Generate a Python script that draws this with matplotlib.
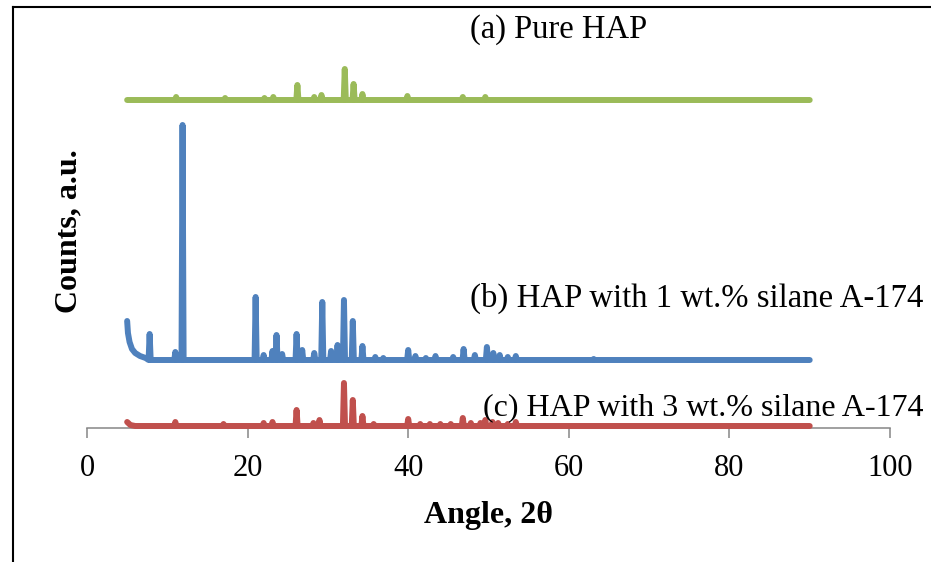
import matplotlib
matplotlib.use("Agg")
import matplotlib.pyplot as plt
from matplotlib.lines import Line2D

plt.rcParams["font.family"] = ["Liberation Serif", "DejaVu Serif"]

# angle range of the scans
angle_start = 5.0
angle_end = 90.0

# (a) pure HAP: peak positions (2theta) and peak tops (a.u.)
hap_pos = [11.1, 17.2, 22.1, 23.2, 26.2, 28.3, 29.2, 32.1, 33.2, 34.3, 39.9, 46.8, 49.6]
hap_top = [331, 330, 330, 331, 343, 331, 333, 359, 344, 334, 332, 331, 331]
hap_base = 328
hap_start_x = [5.0]
hap_start_y = [328]

# (b) HAP with 1 wt.% silane A-174
s1_pos = [7.8, 11.0, 11.9, 21.0, 22.0, 23.1, 23.6, 24.3, 26.1, 26.8, 28.3, 29.3,
          30.4, 31.2, 32.0, 33.1, 34.3, 35.9, 36.9, 40.0, 40.9, 42.2, 43.4, 45.6,
          46.9, 48.3, 49.8, 50.6, 51.4, 52.4, 53.4, 63.1]
s1_top = [94, 76, 303, 131, 73, 77, 93, 74, 94, 78, 75, 126,
          77, 83, 128, 107, 82, 71, 70, 78, 72, 70, 72, 71,
          79, 73, 81, 75, 73, 71, 72, 69]
s1_base = 68
s1_start_x = [5.0, 5.1, 5.3, 5.6, 6.0, 6.6, 7.3]
s1_start_y = [107, 95, 86, 79, 75, 72, 70]

# (c) HAP with 3 wt.% silane A-174
s3_pos = [11.0, 17.0, 22.0, 23.1, 26.1, 28.2, 28.95, 32.0, 33.1, 34.3, 35.7, 40.0,
          41.5, 42.7, 44.0, 45.3, 46.8, 47.8, 49.0, 49.6, 50.5, 51.2, 52.4, 53.4]
s3_top = [6, 4, 5, 6, 18, 5, 8, 45, 28, 12, 4, 9,
          4, 4, 4, 4, 10, 5, 5, 8, 6, 5, 4, 6]
s3_base = 2
s3_start_x = [5.0, 5.4, 6.0]
s3_start_y = [6, 3, 2]

labels = ["(a) Pure HAP",
          "(b) HAP with 1 wt.% silane A-174",
          "(c) HAP with 3 wt.% silane A-174"]
colors = ["#9BBB59", "#4F81BD", "#C0504D"]


def trace(pos, top, base, start_x, start_y, half_width=0.13):
    xs = list(start_x)
    ys = list(start_y)
    for p, t in zip(pos, top):
        xs += [p - half_width, p, p + half_width]
        ys += [base, t, base]
    xs.append(angle_end)
    ys.append(base)
    return xs, ys


fig = plt.figure(figsize=(9.31, 5.62), dpi=100)
ax = fig.add_axes([87 / 931, 1 - 428 / 562, 803 / 931, 408 / 562])

series = [
    (hap_pos, hap_top, hap_base, hap_start_x, hap_start_y),
    (s1_pos, s1_top, s1_base, s1_start_x, s1_start_y),
    (s3_pos, s3_top, s3_base, s3_start_x, s3_start_y),
]
for (pos, top, base, sx, sy), c in zip(series, colors):
    x, y = trace(pos, top, base, sx, sy)
    ax.plot(x, y, color=c, lw=4.3, solid_joinstyle="round",
            solid_capstyle="round", zorder=3, clip_on=False)

ax.set_xlim(0, 100)
ax.set_ylim(0, 408)
ax.set_xticks([0, 20, 40, 60, 80, 100])
ax.set_yticks([])
for side in ["top", "right", "left"]:
    ax.spines[side].set_visible(False)
ax.spines["bottom"].set_color("#868686")
ax.spines["bottom"].set_linewidth(1.1)
ax.tick_params(axis="x", direction="out", length=7, width=1.1,
               color="#868686", labelsize=22, pad=12)

# annotations
ax.text(47.7, 390, labels[0], fontsize=23.5, va="baseline", ha="left")
ax.text(47.7, 121, labels[1], fontsize=23.6, va="baseline", ha="left")
ax.text(49.3, 13, labels[2], fontsize=23, va="baseline", ha="left")

ax.set_xlabel("Angle, 2θ", fontsize=23, fontweight="bold", labelpad=13)
ax.set_ylabel("Counts, a.u.", fontsize=23, fontweight="bold")
ax.yaxis.label.set_va("center")
ax.yaxis.set_label_coords(-0.023, 0.483)

# outer frame (left and top edges)
fig.add_artist(Line2D([12.7 / 931, 12.7 / 931], [0, 1 - 6.5 / 562],
                      transform=fig.transFigure, color="black", lw=1.5))
fig.add_artist(Line2D([12.7 / 931, 1], [1 - 6.5 / 562, 1 - 6.5 / 562],
                      transform=fig.transFigure, color="black", lw=1.5))

fig.savefig("out.png", dpi=100)
